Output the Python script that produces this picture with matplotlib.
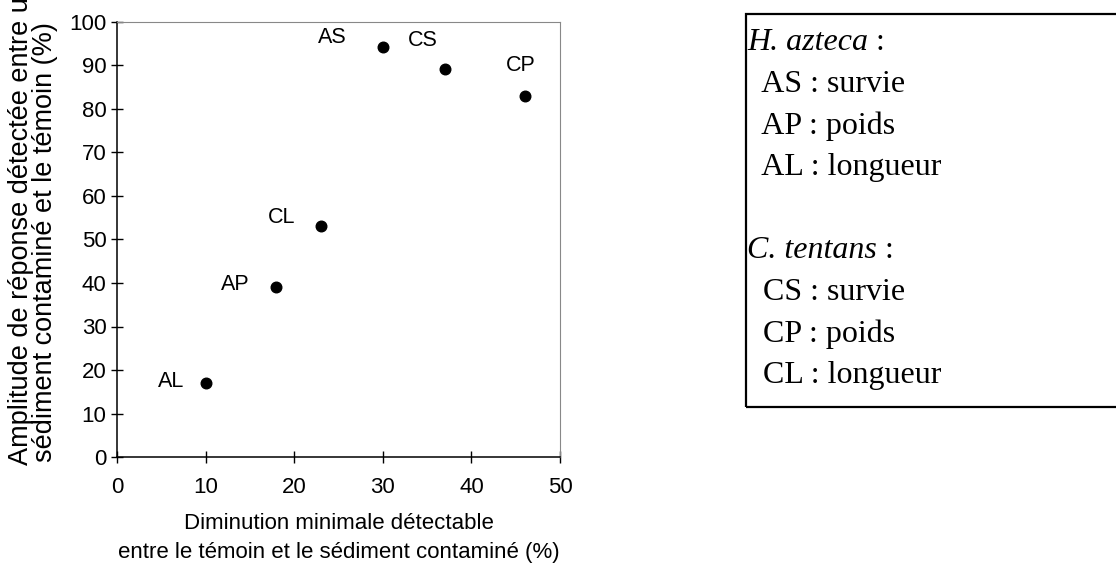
import matplotlib
matplotlib.use("Agg")
import matplotlib.pyplot as plt
from matplotlib.patches import Rectangle

# Data
labels = ["AS", "CS", "CP", "CL", "AP", "AL"]
x_vals = [30, 37, 46, 23, 18, 10]
y_vals = [94.2, 89.1, 82.9, 53.1, 39.1, 16.9]
# label offsets in points (relative to each dot)
offsets = [(-36, 7), (-16, 21), (-3, 22), (-28, 6), (-30, 1.5), (-25, 1.5)]

x_ticks = [0, 10, 20, 30, 40, 50]
y_ticks = [0, 10, 20, 30, 40, 50, 60, 70, 80, 90, 100]

legend_lines = [
    ("H. azteca", " :", True),
    ("  AS : survie", "", False),
    ("  AP : poids", "", False),
    ("  AL : longueur", "", False),
    ("", "", False),
    ("C. tentans", " :", True),
    ("  CS : survie", "", False),
    ("  CP : poids", "", False),
    ("  CL : longueur", "", False),
]

sans = "Liberation Sans"
serif = "Liberation Serif"

fig = plt.figure(figsize=(11.16, 5.65), dpi=100)
W, H = 1116, 565
ax = fig.add_axes([117 / W, 1 - 457 / H, (560 - 117) / W, (457 - 22) / H])

ax.scatter(x_vals, y_vals, s=58, color="black", zorder=3, clip_on=False)
for lab, x, y, (dx, dy) in zip(labels, x_vals, y_vals, offsets):
    ax.annotate(lab, (x, y), xytext=(dx, dy), textcoords="offset points",
                ha="center", va="center", fontsize=15.5, family=sans)

ax.set_xlim(0, 50)
ax.set_ylim(0, 100)
ax.set_xticks(x_ticks)
ax.set_yticks(y_ticks)
ax.tick_params(direction="inout", length=9, width=1, labelsize=16)
ax.tick_params(axis="x", pad=10)
ax.tick_params(axis="y", pad=3)
for t in ax.get_xticklabels() + ax.get_yticklabels():
    t.set_family(sans)
ax.spines["top"].set_color("#888888")
ax.spines["right"].set_color("#888888")
for s in ["left", "bottom"]:
    ax.spines[s].set_linewidth(1.1)

ax.set_xlabel("Diminution minimale détectable\nentre le témoin et le sédiment contaminé (%)",
              fontsize=16, family=sans, labelpad=11, linespacing=1.45)

# y label: two lines, clipped at the top of the figure like the original
fig.text(21 / W, 1 - 465 / H, "Amplitude de réponse détectée entre un",
         rotation=90, rotation_mode="anchor", ha="left", va="center",
         fontsize=19.5, family=sans)
fig.text(45 / W, 1 - 462 / H, "sédiment contaminé et le témoin (%)",
         rotation=90, rotation_mode="anchor", ha="left", va="center",
         fontsize=19.5, family=sans)

# legend box on the right
fig.patches.append(Rectangle((746 / W, 1 - 407 / H), 400 / W, (407 - 14) / H,
                             transform=fig.transFigure, fill=False,
                             edgecolor="black", linewidth=1.6))
y0 = 43
step = 41.6
for i, (main, tail, italic) in enumerate(legend_lines):
    if not main:
        continue
    y = 1 - (y0 + i * step) / H
    if italic:
        t = fig.text(747 / W, y, main, fontsize=23, family=serif,
                     style="italic", va="center", ha="left")
        fig.canvas.draw()
        bb = t.get_window_extent()
        fig.text(bb.x1 / W, y, tail, fontsize=23, family=serif,
                 va="center", ha="left")
    else:
        fig.text(747 / W, y, main, fontsize=23, family=serif,
                 va="center", ha="left")

fig.savefig("out.png", dpi=100)
